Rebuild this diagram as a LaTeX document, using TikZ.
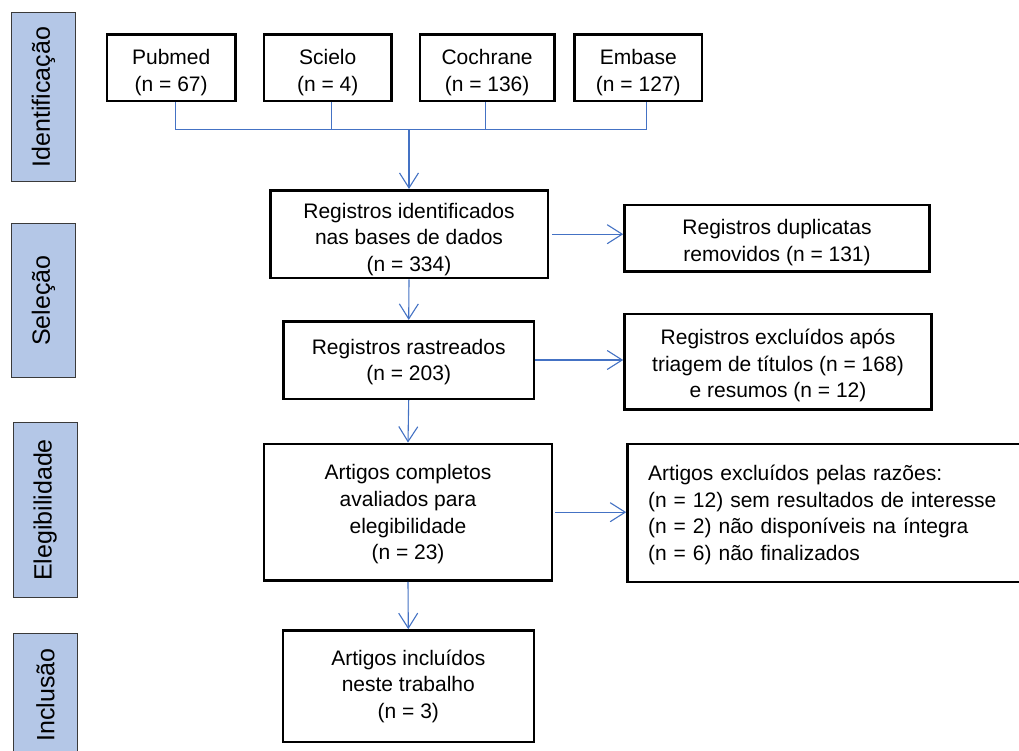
\documentclass[tikz,border=0pt]{standalone}
\usepackage{fontspec}
\setmainfont{Liberation Sans}
\usetikzlibrary{arrows.meta}
\definecolor{connblue}{HTML}{4472C4}
\definecolor{phasefill}{HTML}{B4C7E7}
\definecolor{phaseline}{HTML}{3A3A3A}
\newcommand\pushdown[1]{\rule{0pt}{\dimexpr15.5pt+#1\relax}}
\begin{document}
\begin{tikzpicture}[x=1pt,y=-1pt,
  box/.style={draw=black, line width=2.6pt, align=center, inner sep=0pt,
    font=\fontsize{21}{26.6}\selectfont},
  phase/.style={draw=phaseline, fill=phasefill, line width=1pt, rotate=90,
    inner sep=0pt, minimum height=64pt, font=\fontsize{25}{28}\selectfont},
  conn/.style={draw=connblue, line width=1.1pt},
  arr/.style={conn, -{Straight Barb[length=15pt,width=19pt,line width=1.1pt]}}]
\clip (0,0) rectangle (1019,751);
\fill[white] (0,0) rectangle (1019,751);

% phase labels
\node[phase, minimum width=169pt] (ident) at (43.5,97) {Identificação};
\node[phase, minimum width=154pt] (sel) at (43.5,300.8) {Seleção};
\node[phase, minimum width=175.6pt] (eleg) at (45.2,510) {Elegibilidade};
\node[phase, minimum width=123pt] (incl) at (45.5,695) {Inclusão};

% sources
\node[box, minimum width=128.5pt, minimum height=66.3pt] (pub) at (171.2,67.7) {\pushdown{10pt}Pubmed\\(n = 67)};
\node[box, minimum width=127.8pt, minimum height=66.3pt] (sci) at (327.7,67.7) {\pushdown{10pt}Scielo\\(n = 4)};
\node[box, minimum width=134.2pt, minimum height=66.3pt] (coc) at (487.1,67.7) {\pushdown{10pt}Cochrane\\(n = 136)};
\node[box, minimum width=127.6pt, minimum height=66.3pt] (emb) at (638.3,67.7) {\pushdown{10pt}Embase\\(n = 127)};

% main flow
\node[box, minimum width=277.6pt, minimum height=87.9pt] (regid) at (409,234.2)
  {\pushdown{10pt}Registros identificados\\nas bases de dados\\(n = 334)};
\node[box, minimum width=305pt, minimum height=66.3pt] (dup) at (777,238.3)
  {\pushdown{8pt}Registros duplicatas\\removidos (n = 131)};
\node[box, minimum width=250.3pt, minimum height=77.6pt] (rast) at (408.7,360)
  {\pushdown{4pt}Registros rastreados\\(n = 203)};
\node[box, minimum width=307pt, minimum height=95.6pt] (excl) at (778,361.7)
  {\pushdown{8pt}Registros excluídos após\\triagem de títulos (n = 168)\\e resumos (n = 12)};
\node[box, minimum width=288.2pt, minimum height=136.6pt] (art) at (408,512.2)
  {\pushdown{4pt}Artigos completos\\avaliados para\\elegibilidade\\(n = 23)};
\node[box, anchor=west, align=left, text width=363pt, inner xsep=20.5pt,
  minimum height=138.2pt] (raz) at (626.2,513)
  {\pushdown{4pt}Artigos excluídos pelas razões:\\(n = 12) sem resultados de interesse\\(n = 2) não disponíveis na íntegra\\(n = 6) não finalizados};
\node[box, minimum width=251pt, minimum height=111.6pt] (inc) at (408.3,686.3)
  {Artigos incluídos\\neste trabalho\\(n = 3)};

% bus from the sources
\coordinate (bus) at (409,129.3);
\coordinate (pp) at ([xshift=4.6pt]pub.south);
\coordinate (sp) at ([xshift=4.2pt]sci.south);
\coordinate (cp) at ([xshift=-1.3pt]coc.south);
\coordinate (ep) at ([xshift=8.4pt]emb.south);
\draw[conn] (pp) |- (bus) -| (ep);
\draw[conn] (sp) -- (sp |- bus);
\draw[conn] (cp) -- (cp |- bus);
\draw[arr] (bus) -- (regid.north);

% connectors
\draw[arr] ([xshift=3pt]regid.east) -- (regid.east -| dup.west);
\draw[arr] (regid.south) -- (rast.north);
\draw[arr] (rast.east) -- (rast.east -| excl.west);
\draw[arr] (rast.south) -- (art.north);
\draw[arr] ([xshift=2pt]art.east) -- (art.east -| raz.west);
\draw[arr] (art.south) -- (inc.north);
\end{tikzpicture}
\end{document}
